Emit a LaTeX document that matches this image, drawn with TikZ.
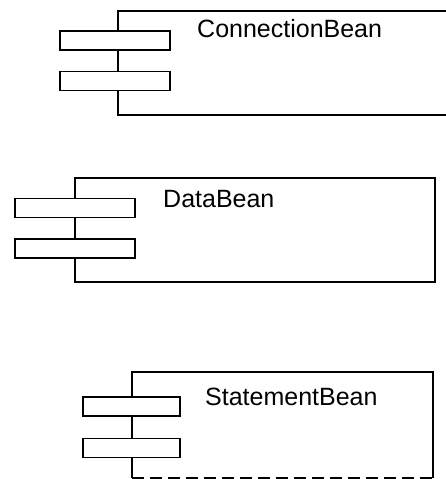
\documentclass[tikz,border=0pt]{standalone}
\usepackage{fontspec}
\setmainfont{Liberation Sans}
\usepackage{tikz}

\begin{document}
\begin{tikzpicture}[x=1pt,y=-1pt]
        \tikzset{body/.style={rectangle, inner sep=0pt, line width=1.6pt},
                 port/.style={rectangle, draw=black!100, fill=white, inner sep=0pt, line width=1.6pt, minimum height=19pt},
                 beanlabel/.style={anchor=base west, inner sep=0pt, font=\fontsize{25}{25}\selectfont}}
        \useasboundingbox (0,0) rectangle (446,479);
        \clip (0,0) rectangle (446,479);

	%---NODES---
        \node[body, draw=black!100, minimum width=334pt, minimum height=104pt] (c) at (285,63) {};
        \node[body, draw=black!100, minimum width=360pt, minimum height=104pt] (d) at (255,230) {};
        \node[body, minimum width=299pt, minimum height=104pt] (s) at (282.5,425) {};

	%---EDGES---
        \draw[line width=1.6pt]   (s.south west) -- (s.north west) -- (s.north east) -- (s.south east) ;
        \draw[line width=1.6pt, dash pattern=on 12pt off 6pt]   (s.south west) -- (s.south east) ;

        \node[port, minimum width=110pt] (c1) at (115,40.5) {};
        \node[port, minimum width=110pt] (c2) at (115,81) {};

        \node[port, minimum width=120pt] (d1) at (75,208) {};
        \node[port, minimum width=120pt] (d2) at (75,248.5) {};

        \node[port, minimum width=97pt] (s1) at (131.5,406.5) {};
        \node[port, minimum width=97pt] (s2) at (131.5,448) {};

	%---LABELS---
	\node[beanlabel] (cl) at (197,37) {ConnectionBean} ;
	\node[beanlabel] (dl) at (163,207) {DataBean} ;
	\node[beanlabel] (sl) at (205,405) {StatementBean} ;

    \end{tikzpicture}
\end{document}
